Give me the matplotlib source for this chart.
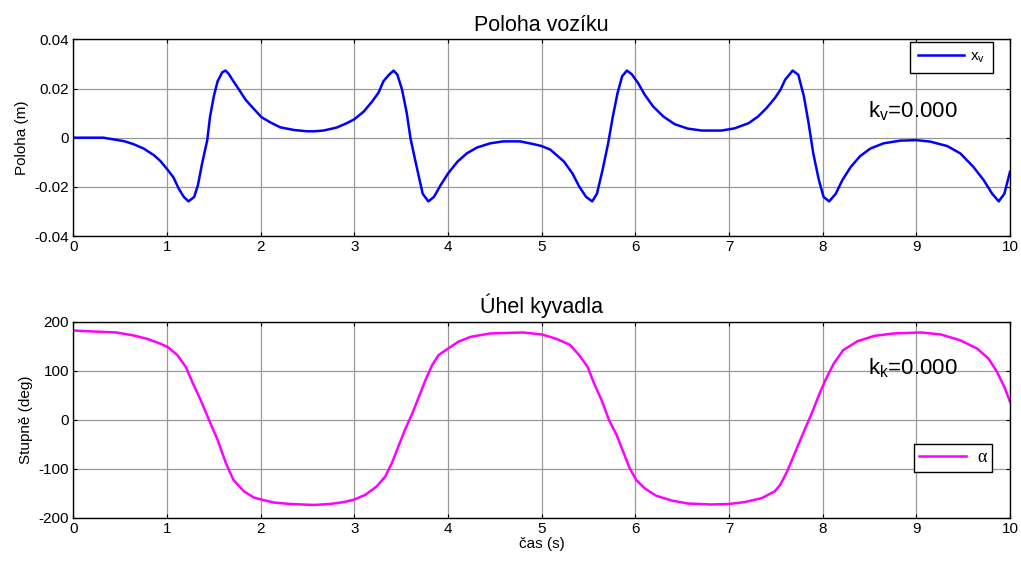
import matplotlib
matplotlib.use("Agg")
import matplotlib.pyplot as plt

plt.rcParams['font.family'] = ['Liberation Sans', 'DejaVu Sans']
plt.rcParams['mathtext.fontset'] = 'custom'
plt.rcParams['mathtext.rm'] = 'Liberation Sans'
plt.rcParams['axes.unicode_minus'] = False

# Cart position (m) over time (s)
t_pos = [0.0, 0.32, 0.43, 0.54, 0.64, 0.75, 0.86, 0.93, 1.01, 1.07, 1.125, 1.18, 1.23,
         1.29, 1.33, 1.375, 1.43, 1.46, 1.5, 1.54, 1.59, 1.625, 1.66, 1.71, 1.77, 1.84,
         1.93, 2.01, 2.11, 2.21, 2.36, 2.5, 2.57, 2.67, 2.81, 2.92, 3.0, 3.1, 3.19, 3.26,
         3.31, 3.37, 3.42, 3.46, 3.51, 3.56, 3.6, 3.65, 3.69, 3.73, 3.79, 3.85, 3.92,
         4.0, 4.1, 4.2, 4.31, 4.45, 4.59, 4.77, 4.91, 5.0, 5.09, 5.14, 5.24, 5.33, 5.4,
         5.475, 5.54, 5.59, 5.65, 5.71, 5.76, 5.81, 5.86, 5.91, 5.96, 6.03, 6.1, 6.19,
         6.3, 6.42, 6.56, 6.71, 6.92, 7.06, 7.21, 7.31, 7.4, 7.49, 7.55, 7.6, 7.68, 7.74,
         7.8, 7.85, 7.9, 7.96, 8.01, 8.07, 8.14, 8.21, 8.3, 8.4, 8.51, 8.65, 8.83, 9.0,
         9.15, 9.33, 9.47, 9.61, 9.72, 9.81, 9.88, 9.94, 10.0]
x_pos = [0.0, 0.0, -0.0007, -0.0014, -0.0026, -0.0044, -0.0071, -0.0095, -0.0132,
         -0.0162, -0.0207, -0.0241, -0.0259, -0.0241, -0.0194, -0.0105, -0.001, 0.0086,
         0.0168, 0.0229, 0.0266, 0.0273, 0.0259, 0.0229, 0.0195, 0.0154, 0.0116, 0.0083,
         0.0061, 0.0042, 0.0031, 0.0026, 0.0026, 0.0029, 0.0041, 0.0059, 0.0075, 0.0106,
         0.0147, 0.0184, 0.0229, 0.0256, 0.0273, 0.0256, 0.0195, 0.0100, -0.0003,
         -0.0091, -0.016, -0.0228, -0.0259, -0.0241, -0.0194, -0.0146, -0.0098, -0.0064,
         -0.004, -0.0023, -0.0015, -0.0015, -0.0026, -0.0034, -0.0048, -0.0064, -0.0098,
         -0.0146, -0.0198, -0.0241, -0.0259, -0.0228, -0.0132, -0.0023, 0.0086, 0.0181,
         0.025, 0.0273, 0.0259, 0.0222, 0.0175, 0.0127, 0.0086, 0.0055, 0.0037, 0.0029,
         0.0029, 0.0038, 0.0059, 0.0086, 0.012, 0.0161, 0.0195, 0.0236, 0.0273, 0.0256,
         0.0168, 0.0059, -0.0064, -0.0173, -0.0241, -0.0259, -0.0228, -0.0173, -0.0119,
         -0.0075, -0.0044, -0.0023, -0.0012, -0.001, -0.0016, -0.0034, -0.0064, -0.0119,
         -0.0173, -0.0228, -0.0259, -0.0228, -0.0139]

# Pendulum angle (deg) over time (s)
t_ang = [0.0, 0.21, 0.46, 0.64, 0.79, 0.93, 1.01, 1.11, 1.2, 1.27, 1.36, 1.45, 1.54,
         1.63, 1.71, 1.82, 1.93, 2.01, 2.14, 2.32, 2.57, 2.74, 2.89, 3.0, 3.12, 3.24,
         3.33, 3.4, 3.47, 3.54, 3.62, 3.69, 3.76, 3.83, 3.9, 4.0, 4.11, 4.24, 4.45, 4.8,
         5.0, 5.09, 5.17, 5.3, 5.4, 5.49, 5.56, 5.64, 5.72, 5.8, 5.87, 5.94, 6.01, 6.1,
         6.22, 6.39, 6.56, 6.81, 7.0, 7.17, 7.35, 7.49, 7.55, 7.62, 7.71, 7.8, 7.89,
         7.96, 8.03, 8.12, 8.22, 8.37, 8.55, 8.76, 9.05, 9.26, 9.47, 9.65, 9.77, 9.86,
         9.94, 10.0]
alpha = [182, 180, 178, 172, 165, 155, 148, 132, 108, 77, 40, -1, -41, -89, -123, -146,
         -159, -163, -169, -172, -174, -172, -168, -163, -153, -136, -116, -89, -55, -21,
         13, 47, 81, 111, 132, 145, 159, 169, 176, 178, 174, 169, 164, 153, 132, 108, 74,
         40, -1, -31, -65, -99, -123, -140, -155, -165, -171, -173, -172, -168, -160,
         -146, -132, -106, -65, -24, 16, 50, 81, 115, 142, 160, 171, 176, 178, 174, 162,
         145, 125, 98, 67, 37]

x_ticks = list(range(0, 11))
pos_ticks = [-0.04, -0.02, 0.0, 0.02, 0.04]
pos_ticklabels = ['-0.04', '-0.02', '0', '0.02', '0.04']
ang_ticks = [-200, -100, 0, 100, 200]

fig = plt.figure(figsize=(10.21, 5.62), dpi=100)
ax1 = fig.add_axes([0.0718, 0.580, 0.9174, 0.350])
ax2 = fig.add_axes([0.0718, 0.0788, 0.9174, 0.3488])


def style(ax):
    ax.set_xlim(0, 10)
    ax.set_xticks(x_ticks)
    ax.grid(True, color='#9a9a9a', linewidth=0.9, linestyle='-')
    ax.set_axisbelow(True)
    ax.tick_params(direction='in', top=True, right=True, length=3, width=0.8,
                   labelsize=11, pad=3)
    for s in ax.spines.values():
        s.set_linewidth(1.0)
        s.set_color('black')


def style_legend(leg):
    fr = leg.get_frame()
    fr.set_edgecolor('black')
    fr.set_linewidth(1.0)
    fr.set_alpha(1)


ax1.plot(t_pos, x_pos, color='#0000ff', linewidth=1.8, label=r'$\mathregular{x_v}$')
style(ax1)
ax1.set_ylim(-0.04, 0.04)
ax1.set_yticks(pos_ticks)
ax1.set_yticklabels(pos_ticklabels)
ax1.set_ylabel('Poloha (m)', fontsize=11, labelpad=4)
ax1.set_title('Poloha vozíku', fontsize=15.5, pad=6)
ax1.text(8.48, 0.0084, r'$\mathregular{k_v}$=0.000', fontsize=16)
leg1 = ax1.legend(loc='upper right', bbox_to_anchor=(0.9815, 0.986), fontsize=11,
                  frameon=True, fancybox=False, handlelength=3.0, borderpad=0.5,
                  handletextpad=0.4, borderaxespad=0.0)
style_legend(leg1)

ax2.plot(t_ang, alpha, color='#ff00ff', linewidth=1.8, label='α')
style(ax2)
ax2.set_ylim(-200, 200)
ax2.set_yticks(ang_ticks)
ax2.set_ylabel('Stupně (deg)', fontsize=11, labelpad=4)
ax2.set_title('Úhel kyvadla', fontsize=15.5, pad=6)
ax2.set_xlabel('čas (s)', fontsize=11, labelpad=1)
ax2.text(8.48, 93, r'$\mathregular{k_k}$=0.000', fontsize=16)
leg2 = ax2.legend(loc='upper right', bbox_to_anchor=(0.9805, 0.376),
                  prop={'family': 'Liberation Serif', 'size': 13},
                  frameon=True, fancybox=False, handlelength=2.6, borderpad=0.3,
                  handletextpad=0.6, borderaxespad=0.0)
style_legend(leg2)

fig.savefig('out.png', dpi=100)
